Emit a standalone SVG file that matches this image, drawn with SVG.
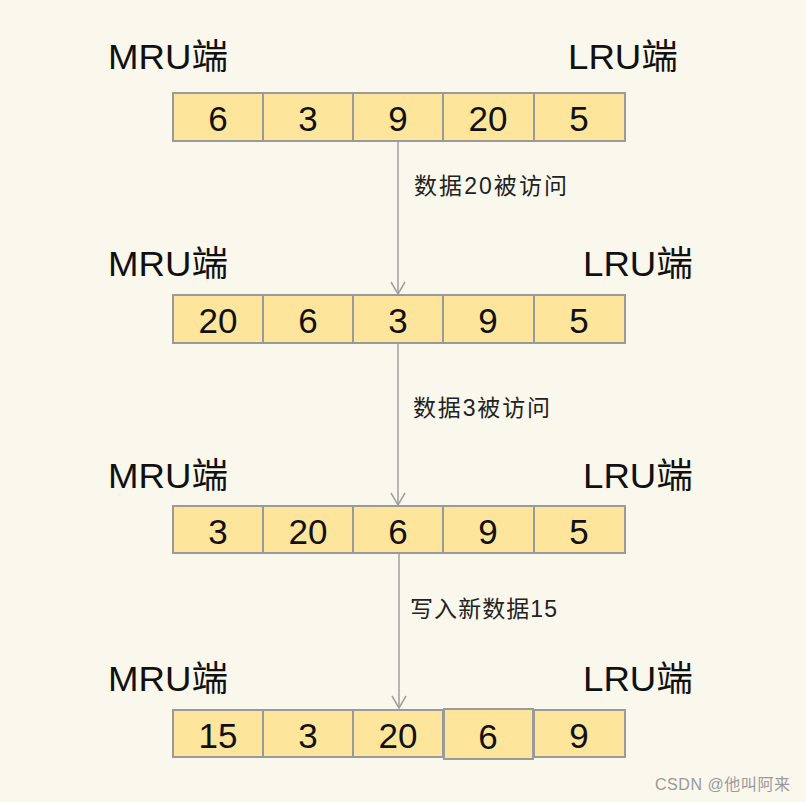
<svg xmlns="http://www.w3.org/2000/svg" width="806" height="802" viewBox="0 0 806 802">
<defs>
<style>
.lbl{font-family:"Liberation Sans","Noto Sans CJK SC",sans-serif;font-size:35px;fill:#111}
.num{font-family:"Liberation Sans","Noto Sans CJK SC",sans-serif;font-size:35px;fill:#111;text-anchor:middle}
.cap{font-family:"Liberation Sans","Noto Sans CJK SC",sans-serif;font-size:23px;fill:#222}
.cell{fill:#FDE59B;stroke:#9a9a9a;stroke-width:2}
.conn{stroke:#a0a0a0;stroke-width:1.5;fill:none}
.wm{font-family:"Liberation Sans","Noto Sans CJK SC",sans-serif;font-size:16px;fill:#9a9a9a}
</style>
<marker id="ah" viewBox="0 0 14 16" refX="13" refY="8" markerWidth="14" markerHeight="16" markerUnits="userSpaceOnUse" orient="auto">
<path d="M1,1 L13,8 L1,15" fill="none" stroke="#a0a0a0" stroke-width="1.5"/>
</marker>
</defs>
<rect width="806" height="802" fill="#FAF7EC"/>
<g id="connectors">
<line class="conn" x1="398" y1="141" x2="398" y2="294" marker-end="url(#ah)"/>
<line class="conn" x1="398" y1="343" x2="398" y2="505" marker-end="url(#ah)"/>
<line class="conn" x1="399" y1="553" x2="399" y2="708" marker-end="url(#ah)"/>
<text class="cap" x="414" y="194" textLength="153" lengthAdjust="spacing">数据20被访问</text>
<text class="cap" x="413" y="416" textLength="137" lengthAdjust="spacing">数据3被访问</text>
<text class="cap" x="410" y="617" textLength="147" lengthAdjust="spacing">写入新数据15</text>
</g>
<g id="row1">
<text class="lbl" x="108" y="69" textLength="120" lengthAdjust="spacingAndGlyphs">MRU端</text>
<text class="lbl" x="568" y="69" textLength="110" lengthAdjust="spacingAndGlyphs">LRU端</text>
<rect class="cell" x="173" y="93" width="90" height="48"/>
<rect class="cell" x="263" y="93" width="90" height="48"/>
<rect class="cell" x="353" y="93" width="90" height="48"/>
<rect class="cell" x="443" y="93" width="91" height="48"/>
<rect class="cell" x="534" y="93" width="91" height="48"/>
<text class="num" x="218" y="131">6</text>
<text class="num" x="308" y="131">3</text>
<text class="num" x="398" y="131">9</text>
<text class="num" x="488" y="131">20</text>
<text class="num" x="579" y="131">5</text>
</g>
<g id="row2">
<text class="lbl" x="108" y="276" textLength="120" lengthAdjust="spacingAndGlyphs">MRU端</text>
<text class="lbl" x="583" y="276" textLength="110" lengthAdjust="spacingAndGlyphs">LRU端</text>
<rect class="cell" x="173" y="295" width="90" height="48"/>
<rect class="cell" x="263" y="295" width="90" height="48"/>
<rect class="cell" x="353" y="295" width="90" height="48"/>
<rect class="cell" x="443" y="295" width="91" height="48"/>
<rect class="cell" x="534" y="295" width="91" height="48"/>
<text class="num" x="218" y="333">20</text>
<text class="num" x="308" y="333">6</text>
<text class="num" x="398" y="333">3</text>
<text class="num" x="488" y="333">9</text>
<text class="num" x="579" y="333">5</text>
</g>
<g id="row3">
<text class="lbl" x="108" y="488" textLength="120" lengthAdjust="spacingAndGlyphs">MRU端</text>
<text class="lbl" x="583" y="488" textLength="110" lengthAdjust="spacingAndGlyphs">LRU端</text>
<rect class="cell" x="173" y="506" width="90" height="47"/>
<rect class="cell" x="263" y="506" width="90" height="47"/>
<rect class="cell" x="353" y="506" width="90" height="47"/>
<rect class="cell" x="443" y="506" width="91" height="47"/>
<rect class="cell" x="534" y="506" width="91" height="47"/>
<text class="num" x="218" y="544">3</text>
<text class="num" x="308" y="544">20</text>
<text class="num" x="398" y="544">6</text>
<text class="num" x="488" y="544">9</text>
<text class="num" x="579" y="544">5</text>
</g>
<g id="row4">
<text class="lbl" x="108" y="691" textLength="120" lengthAdjust="spacingAndGlyphs">MRU端</text>
<text class="lbl" x="583" y="691" textLength="110" lengthAdjust="spacingAndGlyphs">LRU端</text>
<rect class="cell" x="173" y="710" width="90" height="47"/>
<rect class="cell" x="263" y="710" width="90" height="47"/>
<rect class="cell" x="353" y="710" width="90" height="47"/>
<rect class="cell" x="534" y="710" width="91" height="47"/>
<rect class="cell" x="444" y="709" width="89" height="50"/>
<text class="num" x="218" y="748">15</text>
<text class="num" x="308" y="748">3</text>
<text class="num" x="398" y="748">20</text>
<text class="num" x="488" y="749">6</text>
<text class="num" x="579" y="748">9</text>
</g>
<text class="wm" x="655" y="790" textLength="135" lengthAdjust="spacing">CSDN @他叫阿来</text>
</svg>
